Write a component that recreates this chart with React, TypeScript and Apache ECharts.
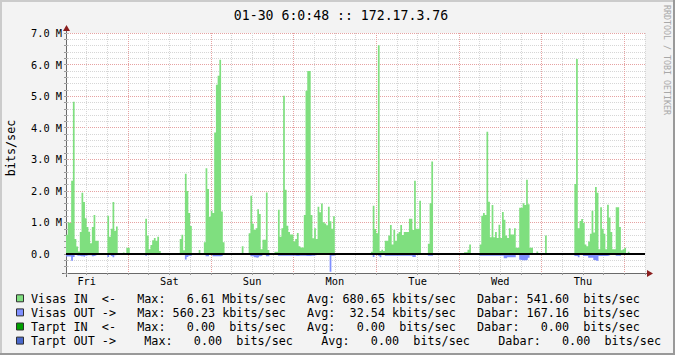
import React, { useEffect, useRef } from 'react';
import * as echarts from 'echarts';

// ---- data ----
const dayLabels = ['Fri', 'Sat', 'Sun', 'Mon', 'Tue', 'Wed', 'Thu'];
const yTickLabels = ['0.0', '1.0 M', '2.0 M', '3.0 M', '4.0 M', '5.0 M', '6.0 M', '7.0 M'];
const stepHours = 0.5; // one sample every 30 minutes, week = 168 h
const totalHours = 168;

// Visas IN (Mbit/s), 30-minute samples
const visasIn: number[] = [
  0.61, 1.01, 0.98, 2.32, 4.82, 0.48, 0.24, 0.08, 0.70, 1.94,
  1.65, 1.13, 0.86, 0.71, 0.34, 0.86, 1.24, 0.42, 0.42, 0,
  0, 0, 0, 0, 1.21, 0.55, 0.80, 1.65, 0.74, 0.87,
  0, 0, 0, 0.05, 0, 0.2, 0.2, 0, 0, 0,
  0, 0, 0, 0, 0, 0, 1.12, 0.59,

  0.15, 0.29, 0.44, 0.51, 0.42, 0.55, 0.10, 0, 0, 0,
  0, 0, 0, 0, 0, 0, 0, 0, 0.48, 0.61,
  0.12, 2.54, 2.0, 1.3, 0.89, 0, 0, 0, 0, 0.13,
  0, 0, 0.37, 2.72, 2.06, 1.18, 1.37, 1.3, 3.85, 5.36,
  5.65, 6.15, 1.35, 0.37, 0, 0, 0, 0,

  0, 0, 0, 0, 0, 0, 0.25, 0, 0, 0,
  0.66, 1.85, 0.96, 0.76, 0.82, 1.42, 1.27, 0.15, 0.45, 0.45,
  1.95, 0.13, 0, 0, 0, 0.07, 0.07, 1.40, 0.55, 0.82,
  5.01, 2.04, 0.9, 0.70, 0.62, 0.62, 0.40, 0.48, 0.67, 0.25,
  0.21, 0.21, 1.24, 5.17, 5.8, 5.8, 1.24, 0.5,

  0.82, 0.48, 1.5, 1.32, 1.6, 1.01, 0.97, 0.91, 1.5, 1.04,
  0.8, 1.2, 0, 0, 0, 0, 0, 0.03, 0, 0,
  0, 0, 0, 0, 0, 0, 0, 0, 0, 0,
  0, 0, 0, 0.07, 1.53, 0.79, 0.66, 6.61, 0.1, 0.14,
  0.1, 0.42, 0.42, 0.59, 0.92, 0.3, 0.77, 0.42,

  0.64, 0.7, 0.92, 0.6, 0.7, 0.7, 0.7, 1.12, 1.12, 0.76,
  2.32, 0.8, 0.8, 1.69, 0, 0, 0, 0, 0.33, 1.61,
  2.93, 0, 0, 0, 0, 0, 0, 0, 0, 0,
  0, 0, 0, 0, 0, 0, 0, 0, 0, 0.06,
  0.06, 0.14, 0.3, 0, 0, 0, 0, 0,

  0.3, 1.21, 1.3, 1.24, 3.87, 1.66, 0.53, 1.55, 0.53, 0.7,
  0.51, 0.93, 0.51, 1.33, 1.09, 0.59, 0.51, 0.82, 0.62, 0.62,
  0.82, 0.2, 0.2, 1.47, 1.47, 1.61, 1.55, 2.35, 1.58, 0.2,
  0.2, 0, 0, 0.08, 0, 0, 0, 0, 0.59, 0.03,
  0, 0, 0, 0, 0, 0, 0, 0,

  0, 0, 0, 0, 0, 0, 0, 2.22, 6.18, 0.82,
  1.05, 1.11, 0.99, 0.3, 0.25, 0.4, 0.64, 1.37, 0.68, 2.12,
  1.94, 0.15, 1.48, 0.8, 0.64, 0.15, 1.56, 1.16, 0.7, 0.15,
  0.15, 1.48, 1.48, 0.86, 0.12, 0.15, 0.2, 0, 0.07, 0,
  0, 0, 0, 0, 0, 0, 0, 0,
];

// Visas OUT (Mbit/s, drawn below zero), 30-minute samples
const visasOut: number[] = [
  0.08, 0.08, 0.08, 0.21, 0.09, 0.03, 0.05, 0.05, 0.07, 0.07,
  0.09, 0.05, 0.04, 0.04, 0.04, 0.07, 0.05, 0.03, 0.02, 0,
  0, 0, 0, 0, 0.09, 0.02, 0.06, 0.1, 0.04, 0.02,
  0, 0, 0, 0, 0, 0, 0, 0, 0, 0,
  0, 0, 0, 0, 0, 0, 0.05, 0.02,

  0.02, 0.02, 0.02, 0.02, 0.02, 0.02, 0.02, 0, 0, 0,
  0, 0, 0, 0, 0, 0, 0, 0, 0.03, 0.03,
  0.02, 0.17, 0.09, 0.05, 0.05, 0, 0, 0, 0, 0,
  0, 0, 0.03, 0.07, 0.07, 0.03, 0.03, 0.07, 0.07, 0.07,
  0.07, 0.07, 0.05, 0.02, 0, 0, 0, 0,

  0, 0, 0, 0, 0, 0, 0, 0, 0, 0,
  0.03, 0.07, 0.07, 0.1, 0.12, 0.1, 0.07, 0.05, 0.02, 0.02,
  0.07, 0.07, 0, 0, 0, 0, 0.02, 0.05, 0.05, 0.05,
  0.05, 0.05, 0.05, 0.05, 0.05, 0.05, 0.05, 0.06, 0.06, 0.05,
  0.05, 0.05, 0.05, 0.06, 0.06, 0.06, 0.05, 0.05,

  0.04, 0.03, 0.02, 0.02, 0.02, 0.02, 0.02, 0.02, 0.02, 0.56,
  0.05, 0.05, 0, 0, 0, 0, 0, 0, 0, 0,
  0, 0, 0, 0, 0, 0, 0, 0, 0, 0,
  0, 0, 0, 0.02, 0.09, 0.02, 0.02, 0.05, 0.1, 0.02,
  0.02, 0.05, 0.05, 0.05, 0.05, 0.05, 0.05, 0.05,

  0.05, 0.05, 0.05, 0.05, 0.05, 0.05, 0.05, 0.05, 0.05, 0.09,
  0.09, 0.03, 0.03, 0.03, 0, 0, 0, 0, 0.05, 0.05,
  0.05, 0, 0, 0, 0, 0, 0, 0, 0, 0,
  0, 0, 0, 0, 0, 0, 0, 0, 0, 0,
  0, 0, 0, 0, 0, 0, 0, 0,

  0.05, 0.05, 0.05, 0.05, 0.05, 0.05, 0.05, 0.05, 0.05, 0.05,
  0.05, 0.05, 0.05, 0.05, 0.13, 0.13, 0.1, 0.1, 0.1, 0.1,
  0.1, 0.03, 0.03, 0.18, 0.2, 0.2, 0.2, 0.18, 0.12, 0.03,
  0.02, 0, 0, 0, 0, 0, 0, 0, 0, 0,
  0, 0, 0, 0, 0, 0, 0, 0,

  0, 0, 0, 0, 0, 0, 0, 0.06, 0.06, 0.1,
  0.03, 0.03, 0.06, 0.06, 0.06, 0.12, 0.12, 0.12, 0.19, 0.21,
  0.21, 0.06, 0.06, 0.06, 0.06, 0.06, 0.05, 0.03, 0, 0,
  0, 0.05, 0.05, 0.06, 0, 0, 0, 0, 0, 0,
  0, 0, 0, 0, 0, 0, 0, 0,
];

// legend
const legendNames = ['Visas IN  <-', 'Visas OUT ->', 'Tarpt IN  <-', 'Tarpt OUT ->'];
const legendColors = ['#7FDF7F', '#7F8FFF', '#00A000', '#4A68CC'];
const maxValues = ['6.61', '560.23', '0.00', '0.00'];
const maxPrefixes = ['M', 'k', ' ', ' '];
const avgValues = ['680.65', '32.54', '0.00', '0.00'];
const avgPrefixes = ['k', 'k', ' ', ' '];
const curValues = ['541.60', '167.16', '0.00', '0.00'];
const curPrefixes = [' ', ' ', ' ', ' '];
const legendGaps = [3, 3, 3, 4];

const titleText = '01-30 6:0:48 :: 172.17.3.76';
const unitText = 'bits/sec';
const watermarkText = 'RRDTOOL / TOBI OETIKER';

// ---- styling ----
const MONO = '"DejaVu Sans Mono", monospace';
const IN_COLOR = '#7FDF7F';
const OUT_COLOR = '#7F8FFF';
const MINOR = '#D6D6D6';
const MAJOR = '#E6A2A2';
const AXIS = '#6A6A6A';
const ARROW = '#8B1E1E';
const LEG_FONT = 11.76;
const LEG_ADV = LEG_FONT * 0.60205;

function buildLegend(): any[] {
  const els: any[] = [];
  for (let i = 0; i < legendNames.length; i++) {
    const gap = ' '.repeat(legendGaps[i]);
    const row =
      legendNames[i] + gap +
      'Max:' + maxValues[i].padStart(7) + ' ' + maxPrefixes[i] + 'bits/sec' + gap +
      'Avg:' + avgValues[i].padStart(7) + ' ' + avgPrefixes[i] + 'bits/sec' + gap +
      'Dabar:' + curValues[i].padStart(7) + ' ' + curPrefixes[i] + 'bits/sec';
    const y = 298.8 + i * 14.1;
    els.push({
      type: 'rect',
      shape: { x: 16.5, y: y - 4, width: 7, height: 7 },
      style: { fill: legendColors[i], stroke: '#303030', lineWidth: 1 },
      silent: true,
    });
    const re = /\S+/g;
    let m: RegExpExecArray | null;
    while ((m = re.exec(row)) !== null) {
      els.push({
        type: 'text',
        x: 31 + m.index * LEG_ADV,
        y,
        style: {
          text: m[0],
          fill: '#000',
          fontFamily: MONO,
          fontSize: LEG_FONT,
          align: 'left',
          verticalAlign: 'middle',
        },
        silent: true,
      });
    }
  }
  return els;
}

export default function App() {
  const ref = useRef<HTMLDivElement>(null);
  useEffect(() => {
    document.body.style.margin = '0';
    const chart = echarts.init(ref.current!, null, { renderer: 'svg' });
    const inData: number[][] = visasIn.map((v, i) => [i * stepHours, v]);
    inData.push([totalHours, 0]);
    const outData: number[][] = visasOut.map((v, i) => [i * stepHours, -v]);
    outData.push([totalHours, 0]);

    const option: any = {
      animation: false,
      backgroundColor: '#F3F3F3',
      grid: {
        left: 66,
        top: 33,
        width: 579,
        height: 240,
        show: true,
        backgroundColor: '#FFFFFF',
        borderWidth: 0,
        outerBoundsMode: 'none',
        containLabel: false,
      },
      xAxis: {
        type: 'value',
        min: 0,
        max: totalHours,
        interval: 6,
        axisLine: { show: true, onZero: false, lineStyle: { color: AXIS, width: 1 } },
        axisTick: { show: true, length: 2, lineStyle: { color: '#999' } },
        axisLabel: {
          margin: 3,
          color: '#000',
          fontFamily: MONO,
          fontSize: 10.3,
          formatter: (v: number) => {
            const k = (v - 6) / 24;
            return Number.isInteger(k) && k >= 0 && k < dayLabels.length ? dayLabels[k] : '';
          },
        },
        splitLine: {
          show: true,
          lineStyle: { color: [MINOR, MINOR, MINOR, MAJOR], type: [1, 1], width: 1 },
        },
      },
      yAxis: [
        {
          type: 'value',
          min: -0.6,
          max: 7,
          interval: 0.2,
          axisLine: { show: true, onZero: false, lineStyle: { color: AXIS, width: 1 } },
          axisTick: { show: true, length: 2, lineStyle: { color: '#999' } },
          axisLabel: {
            align: 'left',
            margin: 35,
            color: '#000',
            fontFamily: MONO,
            fontSize: 10.3,
            formatter: (v: number) => {
              const r = Math.round(v);
              return Math.abs(v - r) < 1e-6 && r >= 0 && r < yTickLabels.length ? yTickLabels[r] : '';
            },
          },
          splitLine: {
            show: true,
            lineStyle: { color: [MINOR, MINOR, MINOR, MAJOR, MINOR], type: [1, 1], width: 1 },
          },
        },
        {
          type: 'value',
          position: 'right',
          min: -0.6,
          max: 7,
          interval: 0.2,
          axisLine: { show: false },
          axisTick: { show: true, length: 2, lineStyle: { color: '#BBB' } },
          axisLabel: { show: false },
          splitLine: { show: false },
        },
      ],
      series: [
        {
          name: 'Visas IN',
          type: 'line',
          step: 'end',
          data: inData,
          symbol: 'none',
          silent: true,
          z: 3,
          lineStyle: { width: 0 },
          areaStyle: { color: IN_COLOR, opacity: 1 },
        },
        {
          name: 'Visas OUT',
          type: 'line',
          step: 'end',
          data: outData,
          symbol: 'none',
          silent: true,
          z: 3,
          lineStyle: { width: 0 },
          areaStyle: { color: OUT_COLOR, opacity: 1 },
          markLine: {
            silent: true,
            symbol: ['none', 'none'],
            label: { show: false },
            lineStyle: { color: '#000', width: 2, type: 'solid' },
            data: [{ yAxis: 0 }],
          },
        },
      ],
      graphic: [
        // 3D frame
        { type: 'rect', shape: { x: 0, y: 0, width: 675, height: 2 }, style: { fill: '#CBCBCB' }, silent: true },
        { type: 'rect', shape: { x: 0, y: 0, width: 2, height: 355 }, style: { fill: '#CBCBCB' }, silent: true },
        { type: 'rect', shape: { x: 0, y: 353, width: 675, height: 2 }, style: { fill: '#999999' }, silent: true },
        { type: 'rect', shape: { x: 673, y: 0, width: 2, height: 355 }, style: { fill: '#999999' }, silent: true },
        // title
        {
          type: 'text', x: 341, y: 15,
          style: { text: titleText, fill: '#000', fontFamily: MONO, fontSize: 13.2, align: 'center', verticalAlign: 'middle' },
          silent: true,
        },
        // unit label
        {
          type: 'text', x: 11, y: 148, rotation: Math.PI / 2,
          style: { text: unitText, fill: '#000', fontFamily: MONO, fontSize: 11.76, align: 'center', verticalAlign: 'middle' },
          silent: true,
        },
        // watermark
        {
          type: 'text', x: 667, y: 60, rotation: -Math.PI / 2,
          style: { text: watermarkText, fill: '#A8A8A8', fontFamily: MONO, fontSize: 8.3, align: 'center', verticalAlign: 'middle' },
          silent: true,
        },
        // axis extensions + arrows
        { type: 'line', shape: { x1: 66.5, y1: 277, x2: 66.5, y2: 29 }, style: { stroke: AXIS, lineWidth: 1 }, silent: true },
        { type: 'line', shape: { x1: 62, y1: 273.5, x2: 648, y2: 273.5 }, style: { stroke: AXIS, lineWidth: 1 }, silent: true },
        { type: 'polygon', shape: { points: [[66.5, 25], [63, 31], [70, 31]] }, style: { fill: ARROW }, silent: true, z: 10 },
        { type: 'polygon', shape: { points: [[653, 273.5], [647, 270], [647, 277]] }, style: { fill: ARROW }, silent: true, z: 10 },
        ...buildLegend(),
      ],
    };
    chart.setOption(option);
    return () => chart.dispose();
  }, []);
  return <div ref={ref} style={{ position: 'fixed', left: 0, top: 0, width: 675, height: 355 }} />;
}
